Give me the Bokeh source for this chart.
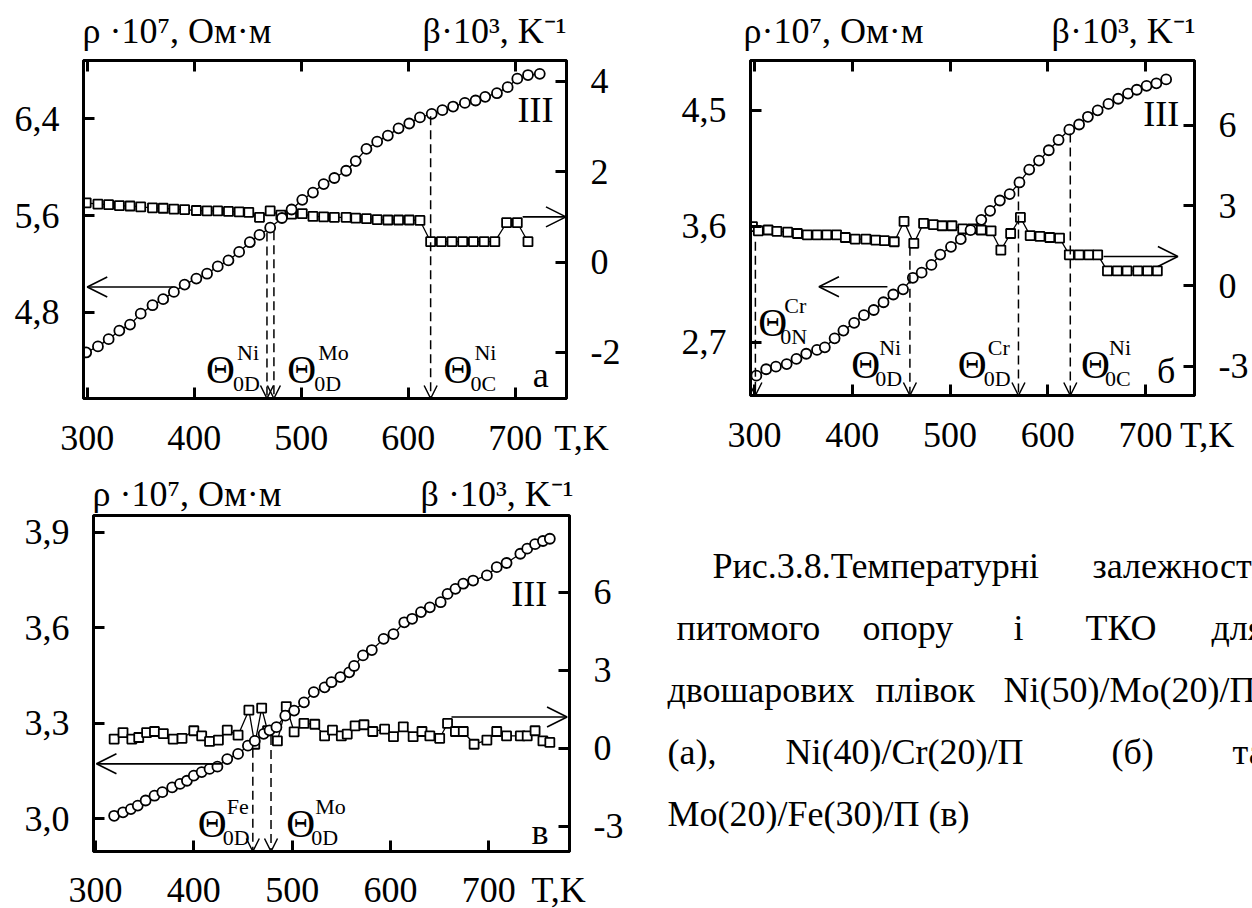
from bokeh.plotting import figure
from bokeh.models import (Range1d, LinearAxis, FixedTicker, Label, Arrow,
                          OpenHead, CustomJSTickFormatter)
from bokeh.layouts import row, column
from bokeh.embed import file_html
from bokeh.resources import INLINE

SERIF = "Liberation Serif"

# ---------------- (а) Ni(50)/Mo(20)/П ----------------
T_rho_a = [299, 310, 320, 330, 340, 350, 361, 371, 381, 391, 402, 412, 422, 432, 442,
           452, 461, 471, 482, 491, 501, 511, 521, 531, 542, 551, 561, 571, 581, 591,
           601, 611, 622, 632, 642, 653, 663, 672, 683, 693, 702, 712, 723]
rho_a = [4.47, 4.52, 4.58, 4.65, 4.70, 4.79, 4.86, 4.91, 4.97, 5.03, 5.08, 5.12, 5.18,
         5.23, 5.30, 5.38, 5.44, 5.50, 5.58, 5.65, 5.73, 5.79, 5.86, 5.91, 5.97, 6.05,
         6.15, 6.21, 6.26, 6.32, 6.36, 6.41, 6.44, 6.47, 6.50, 6.53, 6.55, 6.58, 6.61,
         6.66, 6.73, 6.76, 6.77]
T_beta_a = [299, 310, 320, 330, 340, 350, 361, 371, 381, 391, 402, 412, 422, 432, 442,
            451, 461, 471, 481, 491, 501, 511, 521, 531, 542, 551, 561, 571, 581, 591,
            601, 611, 621, 631, 641, 651, 661, 671, 681, 692, 702, 712]
beta_a = [1.31, 1.28, 1.27, 1.25, 1.24, 1.22, 1.20, 1.19, 1.17, 1.16, 1.14, 1.13, 1.13,
          1.12, 1.11, 1.10, 0.99, 1.13, 1.04, 1.06, 1.07, 1.01, 1.00, 0.99, 0.99, 0.97,
          0.96, 0.94, 0.93, 0.93, 0.93, 0.92, 0.45, 0.45, 0.45, 0.45, 0.45, 0.45, 0.45,
          0.87, 0.87, 0.45]
theta_T_a = [468, 474.5, 621]        # Θ0D(Ni), Θ0D(Mo), Θ0C(Ni)
theta_rho_a = [5.46, 5.47, 6.42]

# ---------------- (б) Ni(40)/Cr(20)/П ----------------
T_rho_b = [302, 312, 322, 333, 343, 353, 364, 372, 382, 391, 402, 412, 422, 432, 442,
           452, 462, 471, 481, 490, 501, 511, 521, 532, 541, 551, 561, 571, 581, 591,
           601, 611, 622, 632, 641, 651, 662, 672, 682, 691, 701, 711, 721]
rho_b = [2.44, 2.49, 2.51, 2.53, 2.57, 2.61, 2.64, 2.66, 2.73, 2.79, 2.85, 2.91, 2.95,
         3.01, 3.07, 3.11, 3.20, 3.24, 3.30, 3.38, 3.44, 3.50, 3.57, 3.65, 3.72, 3.80,
         3.85, 3.94, 4.04, 4.11, 4.19, 4.27, 4.35, 4.39, 4.45, 4.50, 4.55, 4.59, 4.63,
         4.66, 4.69, 4.71, 4.74]
T_beta_b = [298, 304, 314, 323, 334, 344, 354, 364, 374, 384, 393, 403, 414, 424, 433,
            443, 453, 463, 473, 483, 492, 502, 513, 523, 532, 542, 552, 562, 572, 582,
            592, 602, 612, 622, 632, 642, 651, 661, 671, 681, 692, 702, 712]
beta_b = [2.22, 2.06, 2.09, 2.04, 2.01, 1.96, 1.91, 1.91, 1.91, 1.91, 1.81, 1.75, 1.75,
          1.71, 1.69, 1.65, 2.41, 1.59, 2.34, 2.29, 2.25, 2.25, 2.13, 2.13, 2.09, 2.06,
          1.34, 1.96, 2.56, 1.88, 1.85, 1.81, 1.79, 1.16, 1.16, 1.16, 1.16, 0.56, 0.56,
          0.56, 0.56, 0.56, 0.56]
theta_T_b = [301, 459, 570, 623]     # Θ0N(Cr), Θ0D(Ni), Θ0D(Cr), Θ0C(Ni)
theta_rho_b = [3.48, 3.44, 3.90, 4.32]

# ---------------- (в) Mo(20)/Fe(30)/П ----------------
T_rho_c = [319, 328, 336, 343, 351, 360, 368, 378, 386, 393, 400, 408, 416, 424, 434,
           445, 455, 462, 471, 477, 484, 493, 502, 512, 522, 533, 540, 549, 558, 563,
           572, 581, 593, 603, 614, 622, 631, 640, 651, 658, 666, 674, 684, 698, 708,
           718, 732, 739, 747, 755, 762]
rho_c = [3.010, 3.021, 3.031, 3.042, 3.058, 3.073, 3.084, 3.099, 3.110, 3.120, 3.136,
         3.147, 3.157, 3.164, 3.188, 3.204, 3.230, 3.245, 3.267, 3.278, 3.288, 3.324,
         3.340, 3.366, 3.398, 3.413, 3.429, 3.445, 3.460, 3.480, 3.513, 3.530, 3.565,
         3.580, 3.617, 3.628, 3.649, 3.664, 3.680, 3.706, 3.722, 3.738, 3.748, 3.764,
         3.790, 3.803, 3.832, 3.848, 3.862, 3.872, 3.879]
T_beta_c = [319, 328, 337, 344, 352, 360, 369, 379, 388, 400, 408, 416, 425, 434, 445,
            456, 462, 469, 475, 485, 494, 502, 512, 523, 533, 541, 550, 556, 564, 573,
            582, 594, 603, 613, 623, 632, 640, 650, 658, 666, 674, 685, 698, 708, 718,
            732, 739, 747, 755, 762]
beta_c = [0.35, 0.60, 0.35, 0.41, 0.60, 0.64, 0.56, 0.35, 0.38, 0.67, 0.47, 0.26, 0.31,
          0.69, 0.50, 1.46, 0.15, 1.54, 0.67, 0.28, 1.60, 0.63, 0.95, 0.92, 0.47, 0.69,
          0.47, 0.54, 0.86, 0.90, 0.64, 0.73, 0.44, 0.82, 0.44, 0.64, 0.47, 0.38, 0.95,
          0.64, 0.64, 0.15, 0.31, 0.64, 0.47, 0.47, 0.47, 0.67, 0.28, 0.22]
theta_T_c = [460, 478.5]             # Θ0D(Fe), Θ0D(Mo)
theta_rho_c = [3.22, 3.26]

# tick values
T_ticks = [300, 400, 500, 600, 700]
rho_ticks_a = [4.8, 5.6, 6.4]
beta_ticks_a = [-2, 0, 2, 4]
rho_ticks_b = [2.7, 3.6, 4.5]
beta_ticks_b = [-3, 0, 3, 6]
rho_ticks_c = [3.0, 3.3, 3.6, 3.9]
beta_ticks_c = [-3, 0, 3, 6]

COMMA = "return tick.toFixed(1).replace('.', ',')"
INTEGER = "return tick.toFixed(0)"
BLANK = "return ''"
COL_W = 626


def prep(p):
    # no title, no frame alignment with neighbours, plain white background
    try:
        p.title = None
    except Exception:
        p.title.visible = False
    try:
        p.frame_align = False
    except Exception:
        pass
    p.grid.visible = False
    p.background_fill_color = "white"
    p.border_fill_color = "white"


def style_axis(ax, ticks, code, standoff, size="36px"):
    ax.ticker = FixedTicker(ticks=ticks)
    ax.formatter = CustomJSTickFormatter(code=code)
    ax.major_tick_in = 11
    ax.major_tick_out = 0
    ax.major_tick_line_width = 3
    ax.minor_tick_line_color = None
    ax.axis_line_width = 3
    ax.major_label_text_font = SERIF
    ax.major_label_text_font_size = size
    ax.major_label_text_color = "black"
    ax.major_label_standoff = standoff


def text(p, x, y, s, size, align="left", baseline="middle", rng="default"):
    p.add_layout(Label(x=x, y=y, text=s, text_font=SERIF, text_font_size=f"{size}px",
                       text_align=align, text_baseline=baseline, text_color="black",
                       y_range_name=rng))


def sup_sub(p, x, y, sup, sub, dx):
    # Θ with a superscript element symbol and a subscript index
    p.add_layout(Label(x=x, y=y, text="Θ", text_font=SERIF, text_font_size="40px",
                       text_baseline="middle", text_color="black"))
    p.add_layout(Label(x=x, y=y, text=sup, text_font=SERIF, text_font_size="22px",
                       text_baseline="middle", text_color="black",
                       x_offset=dx, y_offset=17))
    p.add_layout(Label(x=x, y=y, text=sub, text_font=SERIF, text_font_size="22px",
                       text_baseline="middle", text_color="black",
                       x_offset=dx - 4, y_offset=-14))


def blank_strip(height):
    s = figure(width=COL_W, height=height, x_range=Range1d(0, COL_W),
               y_range=Range1d(0, height), x_axis_type=None, y_axis_type=None,
               output_backend="svg", toolbar_location=None, min_border=0)
    prep(s)
    s.outline_line_color = None
    return s


def title_strip(height, left, right, cy):
    # left title starts at left[1], right title ends at right[1]; cy from strip top
    s = blank_strip(height)
    text(s, left[1], height - cy, left[0], 36, "left")
    text(s, right[1], height - cy, right[0], 36, "right")
    return s


def tick_strip(height, frame, xr, tk, standoff):
    # temperature labels under a panel, including the "T,K" unit
    fl, fr = frame
    k = (xr[1] - xr[0]) / (fr - fl)
    s = figure(width=COL_W, height=height,
               x_range=Range1d(xr[0] - fl * k, xr[0] + (COL_W - fl) * k),
               y_range=Range1d(0, height), x_axis_type=None, y_axis_type=None,
               output_backend="svg", toolbar_location=None, min_border=0)
    prep(s)
    s.outline_line_color = None
    ax = LinearAxis(fixed_location=height)
    ax.ticker = FixedTicker(ticks=T_ticks + [tk])
    ax.formatter = CustomJSTickFormatter(
        args=dict(tk=tk), code="return tick == tk ? 'T,K' : tick.toFixed(0)")
    ax.major_tick_line_color = None
    ax.minor_tick_line_color = None
    ax.axis_line_color = None
    ax.major_label_text_font = SERIF
    ax.major_label_text_font_size = "36px"
    ax.major_label_text_color = "black"
    ax.major_label_standoff = standoff
    s.add_layout(ax, "below")
    return s


def panel(size, borders, xr, rr, br, rho_ticks, beta_ticks, top_ticks,
          T_rho, rho, T_beta, beta, theta_T, theta_rho, left_arrow, right_arrow):
    w, h = size
    l, r, t, b = borders
    p = figure(width=w, height=h, x_range=Range1d(*xr), y_range=Range1d(*rr),
               output_backend="svg", toolbar_location=None,
               min_border_left=l, min_border_right=r, min_border_top=t,
               min_border_bottom=b)
    prep(p)
    p.extra_y_ranges = {"beta": Range1d(*br)}
    p.outline_line_color = "black"
    p.outline_line_width = 3
    p.outline_line_alpha = 1.0

    style_axis(p.xaxis[0], T_ticks, BLANK, 0, "1px")
    style_axis(p.yaxis[0], rho_ticks, COMMA, 24)
    right = LinearAxis(y_range_name="beta")
    style_axis(right, beta_ticks, INTEGER, 24)
    p.add_layout(right, "right")
    if top_ticks:
        top = LinearAxis()
        style_axis(top, T_ticks, BLANK, 0, "1px")
        p.add_layout(top, "above")

    # β(T): squares on the right scale
    p.line(T_beta, beta, y_range_name="beta", line_color="black", line_width=1.3)
    p.scatter(T_beta, beta, y_range_name="beta", marker="square", size=9,
              fill_color="white", line_color="black", line_width=1.8)
    # ρ(T): circles on the left scale
    p.line(T_rho, rho, line_color="black", line_width=1.3)
    p.scatter(T_rho, rho, marker="circle", size=10,
              fill_color="white", line_color="black", line_width=1.8)

    # dashed markers of the characteristic temperatures
    for tx, ty in zip(theta_T, theta_rho):
        p.add_layout(Arrow(x_start=tx, y_start=ty, x_end=tx, y_end=rr[0],
                           line_color="black", line_width=1.5, line_dash="9 5",
                           end=OpenHead(size=13, line_width=1.5, line_color="black")))

    # arrows pointing at the axis each curve belongs to
    x0, x1, yl = left_arrow
    p.add_layout(Arrow(x_start=x0, y_start=yl, x_end=x1, y_end=yl,
                       line_color="black", line_width=1.6,
                       end=OpenHead(size=20, line_width=1.6, line_color="black")))
    x0, x1, yr = right_arrow
    p.add_layout(Arrow(x_start=x0, y_start=yr, x_end=x1, y_end=yr, y_range_name="beta",
                       line_color="black", line_width=1.6,
                       end=OpenHead(size=20, line_width=1.6, line_color="black")))
    return p


# ---- panel (а): frame x 83..566, y 60..398 ----
xr_a = (296.5, 748)
pa = panel((COL_W, 346), (83, 60, 6, 2), xr_a, (4.09, 6.88), (-3.02, 4.46),
           rho_ticks_a, beta_ticks_a, True, T_rho_a, rho_a, T_beta_a, beta_a,
           theta_T_a, theta_rho_a, (380, 300, 5.01), (707, 747.5, 1.0))
sup_sub(pa, 411, 4.33, "Ni", "0D", 31)
sup_sub(pa, 487, 4.33, "Mo", "0D", 31)
sup_sub(pa, 633, 4.33, "Ni", "0C", 31)
text(pa, 724, 4.28, "а", 36, "center")
text(pa, 719, 6.47, "III", 36, "center")
ta = title_strip(54, ("ρ ·10⁷, Ом·м", 82), ("β·10³, K⁻¹", 566), 30)
ka = tick_strip(55, (83, 566), xr_a, 762, 11)

# ---- panel (б): frame x 750..1194, y 60..395 ----
xr_b = (296, 750)
pb = panel((COL_W, 346), (124, 58, 6, 5), xr_b, (2.286, 4.887), (-4.10, 8.43),
           rho_ticks_b, beta_ticks_b, True, T_rho_b, rho_b, T_beta_b, beta_b,
           theta_T_b, theta_rho_b, (436, 366, 3.13), (657, 733, 1.10))
sup_sub(pb, 304, 2.85, "Cr", "0N", 26)
sup_sub(pb, 399, 2.53, "Ni", "0D", 28)
sup_sub(pb, 508, 2.53, "Cr", "0D", 30)
sup_sub(pb, 634, 2.53, "Ni", "0C", 28)
text(pb, 721, 2.48, "б", 36, "center")
text(pb, 716, 4.47, "III", 36, "center")
tb = title_strip(54, ("ρ·10⁷, Ом·м", 117), ("β·10³, K⁻¹", 569), 30)
kb = tick_strip(55, (124, 568), xr_b, 763, 8)

# ---- panel (в): frame x 93..569, y 515..851 ----
xr_c = (298, 782)
pc = panel((COL_W, 340), (93, 57, 2, 2), xr_c, (2.898, 3.952), (-3.97, 8.94),
           rho_ticks_c, beta_ticks_c, False, T_rho_c, rho_c, T_beta_c, beta_c,
           theta_T_c, theta_rho_c, (428, 301, 3.173), (662, 779.5, 1.2))
sup_sub(pc, 404, 2.985, "Fe", "0D", 29)
sup_sub(pc, 494, 2.985, "Mo", "0D", 29)
text(pc, 752, 2.958, "в", 36, "center")
text(pc, 741, 3.706, "III", 36, "center")
tc = title_strip(58, ("ρ ·10⁷, Ом·м", 92), ("β ·10³, K⁻¹", 573), 38)
kc = tick_strip(55, (93, 569), xr_c, 771, 10)

# ---- figure caption, justified word by word ----
cap = blank_strip(453)
caption_lines = [
    [("Рис.3.8.Температурні", 86), ("залежності", 466)],
    [("питомого", 50), ("опору", 236), ("і", 387), ("ТКО", 459), ("для", 585)],
    [("двошарових", 41), ("плівок", 249), ("Ni(50)/Mo(20)/П", 377)],
    [("(а),", 41), ("Ni(40)/Cr(20)/П", 159), ("(б)", 485), ("та", 606)],
    [("Mo(20)/Fe(30)/П (в)", 41)],
]
caption_y = [343, 281, 219, 157, 95]
for words, y in zip(caption_lines, caption_y):
    for w, x in words:
        text(cap, x, y, w, 36)

layout = column(row(column(ta, pa, ka), column(tb, pb, kb)),
                row(column(tc, pc, kc), cap))
open("out.html", "w").write(file_html(layout, INLINE))
